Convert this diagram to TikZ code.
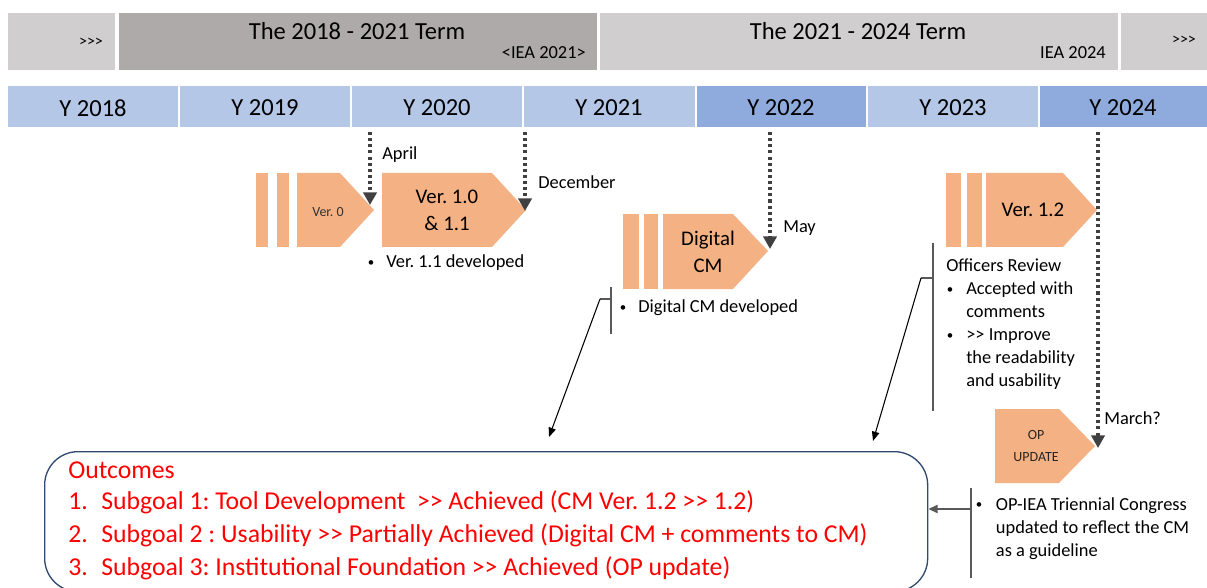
\documentclass[tikz,border=0pt]{standalone}
\usepackage{fontspec}
\setmainfont{Carlito}
\usetikzlibrary{arrows.meta}
\definecolor{bandlt}{HTML}{D0CECE}
\definecolor{banddk}{HTML}{AEAAAA}
\definecolor{yrlt}{HTML}{B4C7E7}
\definecolor{yrdk}{HTML}{8FAADC}
\definecolor{peach}{HTML}{F4B183}
\definecolor{arrgray}{HTML}{404040}
\definecolor{brgray}{HTML}{595959}
\definecolor{navy}{HTML}{2F4A6E}
\definecolor{outred}{HTML}{FF0000}
\newcommand{\bigfs}{\fontsize{18.4pt}{22pt}\selectfont}
\newcommand{\outfs}{\fontsize{19.3pt}{23pt}\selectfont}
\newcommand{\midfs}{\fontsize{15.6pt}{19pt}\selectfont}
\newcommand{\smfs}{\fontsize{13.8pt}{17.25pt}\selectfont}
\newcommand{\tinyfs}{\fontsize{10.5pt}{14pt}\selectfont}
\newcommand{\bul}[1]{\makebox[#1][l]{\hspace{0.5pt}\raisebox{0.15ex}{\scalebox{0.7}{\textbullet}}}}
\begin{document}
\frenchspacing
\begin{tikzpicture}[x=0.75pt,y=-0.75pt,
  txt/.style={inner sep=0pt, text=black, execute at begin node=\frenchspacing},
  dotarrow/.style={draw=arrgray, line width=2.3pt, dash pattern=on 2.3pt off 2.3pt,
    -{Triangle[length=9.5pt,width=10pt]}},
  bracketline/.style={draw=brgray, line width=1.2pt},
  ptr/.style={draw=black, line width=0.8pt, -{Triangle[length=7pt,width=5.5pt]}},
  optr/.style={draw=brgray, line width=1.6pt, -{Triangle[length=7pt,width=6pt]}},
  pentfill/.style={fill=peach, draw=none}]
\useasboundingbox (0,0) rectangle (1207,588);
\clip (0,0) rectangle (1207,588);

% ---- term band ----
\fill[bandlt] (8,13) rectangle (115,70);
\fill[banddk] (119,13) rectangle (597,70);
\fill[bandlt] (600,13) rectangle (1118,70);
\fill[bandlt] (1121,13) rectangle (1207,70);
\node[txt, font=\fontsize{12pt}{14pt}\selectfont] (prev) at (91,42) {>{}>{}>};
\node[txt, font=\bigfs] (term1) at (357,31) {The 2018 - 2021 Term};
\node[txt, font=\smfs, anchor=east] (iea21) at (586,53) {<IEA 2021>};
\node[txt, font=\bigfs] (term2) at (858,31) {The 2021 - 2024 Term};
\node[txt, font=\smfs, anchor=east] (iea24) at (1106,53) {IEA 2024};
\node[txt, font=\fontsize{12pt}{14pt}\selectfont] (next) at (1184,40) {>{}>{}>};

% ---- year row ----
\fill[yrlt] (8,86) rectangle (178,127);
\fill[yrlt] (180,86) rectangle (350,127);
\fill[yrlt] (352,86) rectangle (522,127);
\fill[yrlt] (524,86) rectangle (695,127);
\fill[yrdk] (697,86) rectangle (866,127);
\fill[yrlt] (868,86) rectangle (1038,127);
\fill[yrdk] (1040,86) rectangle (1207,127);
\node[txt, font=\bigfs] (y18) at (93,108) {Y 2018};
\node[txt, font=\bigfs] (y19) at (265,108) {Y 2019};
\node[txt, font=\bigfs] (y20) at (437,108) {Y 2020};
\node[txt, font=\bigfs] (y21) at (609,108) {Y 2021};
\node[txt, font=\bigfs] (y22) at (781,108) {Y 2022};
\node[txt, font=\bigfs] (y23) at (953,108) {Y 2023};
\node[txt, font=\bigfs] (y24) at (1123,108) {Y 2024};

% ---- Ver. 0 ----
\fill[peach] (256,173) rectangle (268,247);
\fill[peach] (277,173) rectangle (289,247);
\path[pentfill] (297,173) -- (340,173) -- (374,210) -- (340,247) -- (297,247) -- cycle;
\node[txt, font=\tinyfs, text=black!80] (v0) at (328,212) {Ver. 0};

% ---- Ver. 1.0 & 1.1 ----
\path[pentfill] (382,173) -- (492,173) -- (526,210) -- (492,247) -- (382,247) -- cycle;
\node[txt, font=\midfs, align=center] (v10) at (447,210) {Ver. 1.0\\[1pt]\& 1.1};
\node[txt, font=\smfs, anchor=west] (v11dev) at (367,263) {\bul{14.3pt}Ver. 1.1 developed};

% ---- Digital CM ----
\fill[peach] (623,214) rectangle (639,289);
\fill[peach] (644,214) rectangle (658,289);
\path[pentfill] (663,214) -- (733,214) -- (768,251) -- (733,289) -- (663,289) -- cycle;
\node[txt, font=\midfs, align=center] (dcm) at (708,252) {Digital\\[1pt]CM};
\node[txt, font=\smfs, anchor=west] (dcmdev) at (619,308) {\bul{14.3pt}Digital CM developed};

% ---- Ver. 1.2 ----
\fill[peach] (946,173) rectangle (961,247);
\fill[peach] (967,173) rectangle (982,247);
\path[pentfill] (986,173) -- (1063,173) -- (1097,210) -- (1063,247) -- (986,247) -- cycle;
\node[txt, font=\midfs] (v12) at (1033,210) {Ver. 1.2};
\node[txt, font=\smfs, anchor=north west, align=left] (officers) at (946,259)
  {Officers Review\\
   \bul{15pt}Accepted with\\
   \hspace*{15pt}comments\\
   \bul{15pt}>{}> Improve\\
   \hspace*{15pt}the readability\\
   \hspace*{15pt}and usability};

% ---- OP UPDATE ----
\path[pentfill] (995,409) -- (1059,409) -- (1095,446) -- (1059,483) -- (995,483) -- cycle;
\node[txt, font=\tinyfs, align=center, text=black!85] (opu) at (1036,446) {OP\\[2pt]UPDATE};
\node[txt, font=\smfs, anchor=north west, align=left] (opiea) at (975,497)
  {\bul{15.5pt}OP-IEA Triennial Congress\\
   \hspace*{15.5pt}updated to reflect the CM\\
   \hspace*{15.5pt}as a guideline};

% ---- dotted month arrows ----
\coordinate (aprS) at (370,132); \coordinate (aprE) at (370,205);
\coordinate (decS) at (525,132); \coordinate (decE) at (525,211);
\coordinate (mayS) at (770,132); \coordinate (mayE) at (770,249);
\coordinate (marS) at (1098,132); \coordinate (marE) at (1098,448);
\draw[dotarrow] (aprS) -- (aprE);
\draw[dotarrow] (decS) -- (decE);
\draw[dotarrow] (mayS) -- (mayE);
\draw[dotarrow] (marS) -- (marE);
\node[txt, font=\smfs, anchor=west] (april) at (382,155) {April};
\node[txt, font=\smfs, anchor=west] (dec) at (538,182) {December};
\node[txt, font=\smfs, anchor=west] (may) at (783,228) {May};
\node[txt, font=\smfs, anchor=west] (march) at (1104,418) {March?};

% ---- outcomes box ----
\node[draw=navy, line width=1pt, rounded corners=25pt, minimum width=883*0.75pt,
  minimum height=140*0.75pt, anchor=north west, inner sep=0pt] (outbox) at (44,451) {};
\node[txt, font=\outfs, text=outred, anchor=west] (outt) at (68,470) {Outcomes};
\node[txt, font=\outfs, text=outred, anchor=west] (o1) at (68,502)
  {\makebox[24.75pt][l]{1.}Subgoal 1: Tool Development \ >{}> Achieved (CM Ver. 1.2 >{}> 1.2)};
\node[txt, font=\outfs, text=outred, anchor=west] (o2) at (68,535)
  {\makebox[24.75pt][l]{2.}Subgoal 2 : Usability >{}> Partially Achieved (Digital CM + comments to CM)};
\node[txt, font=\outfs, text=outred, anchor=west] (o3) at (68,568)
  {\makebox[24.75pt][l]{3.}Subgoal 3: Institutional Foundation >{}> Achieved (OP update)};

% ---- brackets and pointers ----
\coordinate (dcmT) at (611,287); \coordinate (dcmB) at (611,334);
\coordinate (dcmJ) at (611,299); \coordinate (dcmS) at (600,299);
\coordinate (dcmTip) at (549,437);
\draw[bracketline] (dcmT) -- (dcmB);
\draw[bracketline] (dcmJ) -- (dcmS);
\draw[ptr] (dcmS) -- (dcmTip);

\coordinate (offT) at (933,243); \coordinate (offB) at (933,411);
\coordinate (offJ) at (933,278); \coordinate (offS) at (921,278);
\coordinate (offTip) at (873,441);
\draw[bracketline] (offT) -- (offB);
\draw[bracketline] (offJ) -- (offS);
\draw[ptr] (offS) -- (offTip);

\coordinate (opT) at (971,488); \coordinate (opB) at (971,578);
\coordinate (opJ) at (971,509);
\draw[bracketline] (opT) -- (opB);
\draw[optr] (opJ) -- (outbox.east |- opJ);
\end{tikzpicture}
\end{document}
